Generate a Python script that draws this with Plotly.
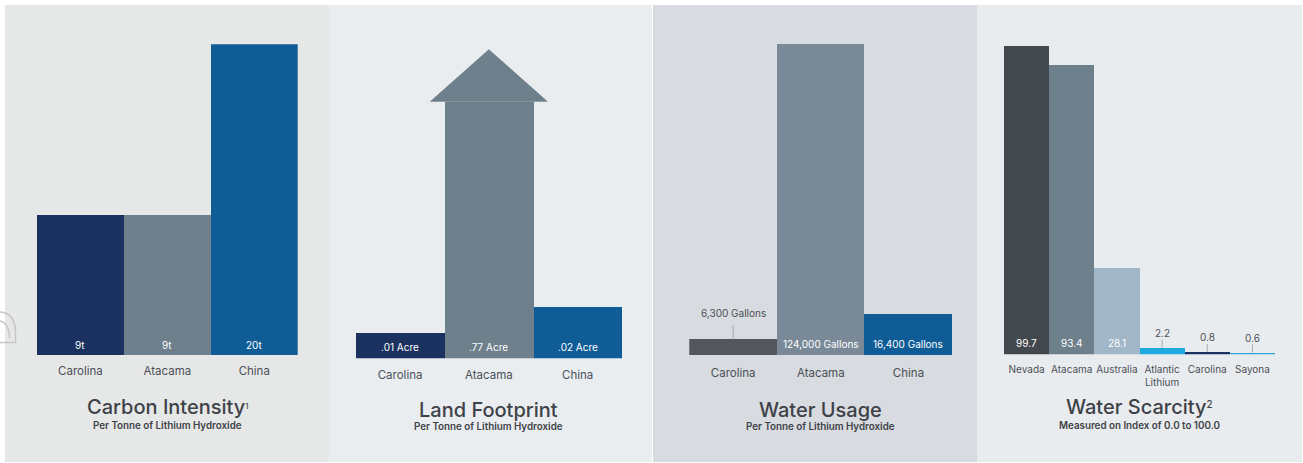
import plotly.graph_objects as go

W, H = 1303, 463

# ---- data -------------------------------------------------------------
carbon_sites = ["Carolina", "Atacama", "China"]
carbon_tonnes = [9, 9, 20]
carbon_labels = ["9t", "9t", "20t"]

land_sites = ["Carolina", "Atacama", "China"]
land_acres = [0.01, 0.77, 0.02]
land_labels = [".01 Acre", ".77 Acre", ".02 Acre"]

water_sites = ["Carolina", "Atacama", "China"]
water_gallons = [6300, 124000, 16400]
water_labels = ["6,300 Gallons", "124,000 Gallons", "16,400 Gallons"]

scarcity_sites = ["Nevada", "Atacama", "Australia", "Atlantic<br>Lithium", "Carolina", "Sayona"]
scarcity_index = [99.7, 93.4, 28.1, 2.2, 0.8, 0.6]
scarcity_labels = ["99.7", "93.4", "28.1", "2.2", "0.8", "0.6"]

# ---- styling ----------------------------------------------------------
NAVY, SLATE, BLUE = "#1b3160", "#6e808c", "#0f5c96"
FONT = "Inter, 'Open Sans', sans-serif"
TEXT = "#3e4248"
LABEL = "#4b5058"


def px(x):
    return x / W


def py(y):
    return 1 - y / H


panels = [
    dict(bg=(5, 329), col="#e6e7e7", xd=(37, 297.7), base=355.7, top=44.3, yr=[0, 20],
         cats=carbon_sites, vals=carbon_tonnes, colors=[NAVY, SLATE, BLUE], tick_size=11.5,
         title="Carbon Intensity<span style='font-size:11px'><sup>1</sup></span>",
         sub="Per Tonne of Lithium Hydroxide", ty=407.3, sy=425.7, standoff=7),
    dict(bg=(329, 652), col="#eaedf0", xd=(355.7, 622), base=358.3, top=101.7, yr=[0, 0.1],
         cats=land_sites, vals=land_acres, colors=[NAVY, SLATE, BLUE], tick_size=11.5,
         title="Land Footprint", sub="Per Tonne of Lithium Hydroxide", ty=410, sy=427.3, standoff=8),
    dict(bg=(653, 977), col="#d8dbdf", xd=(689.3, 952.3), base=355, top=44, yr=[0, 124000],
         cats=water_sites, vals=water_gallons, colors=["#53565b", "#798998", BLUE], tick_size=11.5,
         title="Water Usage", sub="Per Tonne of Lithium Hydroxide", ty=410, sy=427.3, standoff=9),
    dict(bg=(977, 1302), col="#e9ecef", xd=(1004, 1275), base=354.3, top=44.7, yr=[0, 100],
         cats=scarcity_sites, vals=scarcity_index,
         colors=["#43474e", SLATE, "#a1b6c6", "#1eaadf", NAVY, "#2ea3dc"], tick_size=10,
         title="Water Scarcity<span style='font-size:14px'><sup>2</sup></span>",
         sub="Measured on Index of 0.0 to 100.0", ty=407.3, sy=425.7, standoff=8),
]

fig = go.Figure()
shapes, annotations = [], []
layout = {}

for i, p in enumerate(panels, start=1):
    xa = "x" if i == 1 else f"x{i}"
    ya = "y" if i == 1 else f"y{i}"
    xkey = "xaxis" if i == 1 else f"xaxis{i}"
    ykey = "yaxis" if i == 1 else f"yaxis{i}"

    # panel background
    shapes.append(dict(type="rect", xref="paper", yref="paper", layer="below",
                       x0=px(p["bg"][0]), x1=px(p["bg"][1]), y0=py(462), y1=py(5),
                       fillcolor=p["col"], line=dict(width=0)))

    fig.add_trace(go.Bar(x=p["cats"], y=p["vals"], xaxis=xa, yaxis=ya,
                         marker=dict(color=p["colors"], line=dict(width=0)),
                         hoverinfo="skip", showlegend=False))

    layout[xkey] = dict(domain=[px(p["xd"][0]), px(p["xd"][1])], anchor=ya,
                        type="category", range=[-0.5, len(p["cats"]) - 0.5],
                        showgrid=False, zeroline=False, showline=False, ticks="",
                        ticklabelstandoff=p["standoff"],
                        tickfont=dict(family=FONT, size=p["tick_size"], color=LABEL),
                        fixedrange=True)
    layout[ykey] = dict(domain=[py(p["base"]), py(p["top"])], anchor=xa,
                        range=p["yr"], visible=False, fixedrange=True)

    annotations.append(dict(xref=f"{xa} domain", yref="paper", x=0.5, y=py(p["ty"]),
                            text=p["title"], showarrow=False, yanchor="middle",
                            font=dict(family=FONT, size=20, color=TEXT, weight=500)))
    annotations.append(dict(xref=f"{xa} domain", yref="paper", x=0.5, y=py(p["sy"]),
                            text=p["sub"], showarrow=False, yanchor="middle",
                            font=dict(family=FONT, size=9.8, color=TEXT, weight=600)))


def inside_labels(xa, ya, cats, labels, which):
    for k in which:
        annotations.append(dict(xref=xa, yref=ya, x=cats[k], y=0, yshift=11,
                                text=labels[k], showarrow=False, yanchor="middle",
                                font=dict(family=FONT, size=10, color="white")))


def outside_label(xa, ya, cat, val, text, tick_px, text_px, size):
    shapes.append(dict(type="line", xref=xa, yref=ya, ysizemode="pixel", yanchor=val,
                       x0=cat, x1=cat, y0=0, y1=tick_px,
                       line=dict(color="#a4a9af", width=1)))
    annotations.append(dict(xref=xa, yref=ya, x=cat, y=val, yshift=text_px,
                            text=text, showarrow=False, yanchor="middle",
                            font=dict(family=FONT, size=size, color=LABEL)))


inside_labels("x", "y", carbon_sites, carbon_labels, [0, 1, 2])
inside_labels("x2", "y2", land_sites, land_labels, [0, 1, 2])
inside_labels("x3", "y3", water_sites, water_labels, [1, 2])
outside_label("x3", "y3", water_sites[0], water_gallons[0], water_labels[0], 14, 26.5, 10)
inside_labels("x4", "y4", scarcity_sites, scarcity_labels, [0, 1, 2])
for k in (3, 4, 5):
    outside_label("x4", "y4", scarcity_sites[k], scarcity_index[k], scarcity_labels[k], 8, 14.5, 10)

# Atacama land use runs off the top of the axis: arrowhead above its bar
shapes.append(dict(type="path", xref="x2 domain", yref="y2 domain",
                   path="M 0.278 1 L 0.5 1.204 L 0.722 1 Z",
                   fillcolor=SLATE, line=dict(width=0)))

# faint outline ornament at the left edge
shapes.append(dict(type="path", xref="paper", yref="paper",
                   path="M %.5f %.5f Q %.5f %.5f %.5f %.5f L %.5f %.5f L %.5f %.5f" % (
                       px(0), py(312), px(15.5), py(313), px(15.5), py(333),
                       px(15.5), py(342.5), px(0), py(342.5)),
                   line=dict(color="#c4c5c6", width=1.4)))
shapes.append(dict(type="path", xref="paper", yref="paper",
                   path="M %.5f %.5f Q %.5f %.5f %.5f %.5f" % (
                       px(0), py(321), px(9), py(323), px(9.5), py(338)),
                   line=dict(color="#c4c5c6", width=1.4)))

fig.update_layout(width=W, height=H, margin=dict(l=0, r=0, t=0, b=0),
                  paper_bgcolor="white", plot_bgcolor="rgba(0,0,0,0)",
                  bargap=0, shapes=shapes, annotations=annotations,
                  font=dict(family=FONT), **layout)

fig.write_html("out.html", config={"displayModeBar": False})
